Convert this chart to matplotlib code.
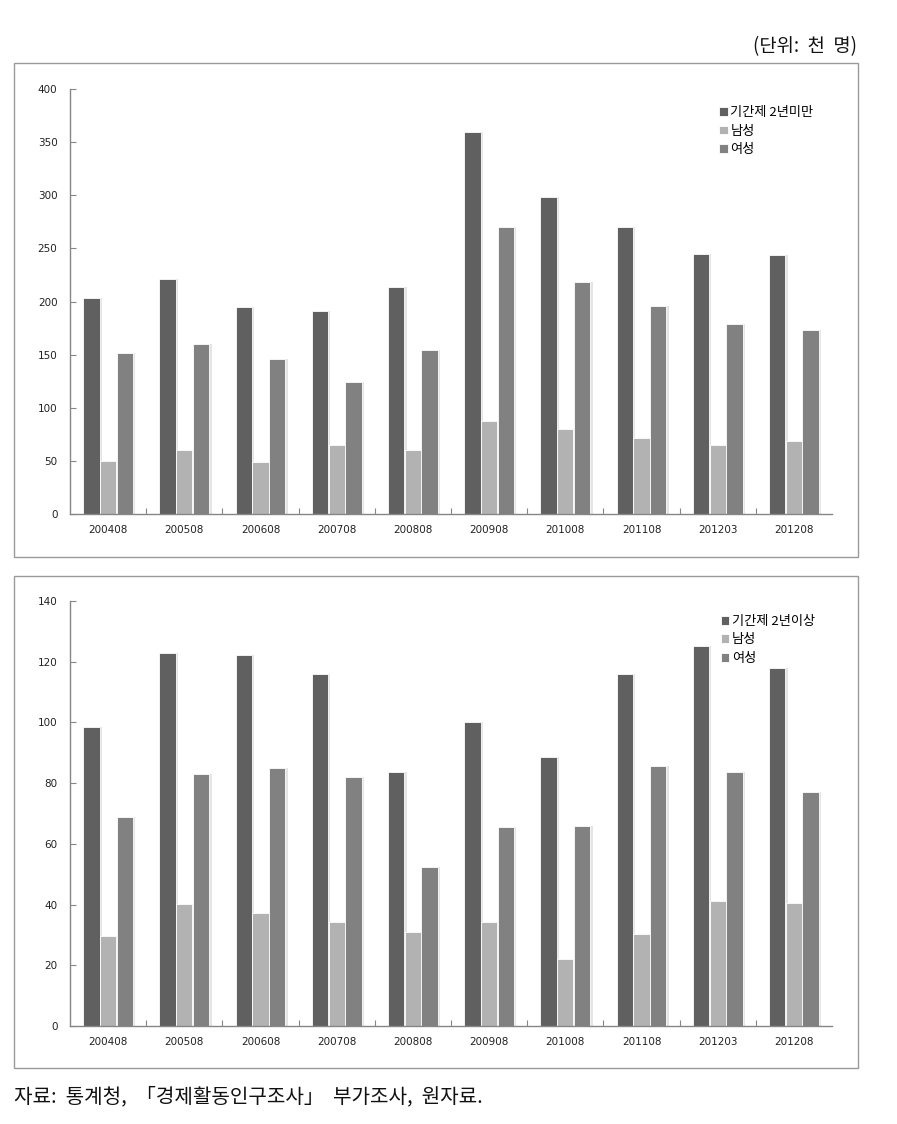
import matplotlib
matplotlib.use("Agg")
import matplotlib.pyplot as plt
from matplotlib.patches import Rectangle
import numpy as np

plt.rcParams['font.family'] = ['Noto Sans CJK KR', 'DejaVu Sans']

categories = ["200408", "200508", "200608", "200708", "200808",
              "200908", "201008", "201108", "201203", "201208"]

# Top panel: fixed-term under 2 years
under2_total = [203, 221, 195, 191, 214, 360, 298, 270, 245, 244]
under2_male = [50, 60, 49, 65, 60, 88, 80, 72, 65, 69]
under2_female = [152, 160, 146, 124, 154, 270, 218, 196, 179, 173]

# Bottom panel: fixed-term 2 years or more
over2_total = [98.5, 122.9, 122.2, 115.9, 83.7, 100.1, 88.6, 116.0, 125.2, 118.0]
over2_male = [29.7, 40.3, 37.3, 34.2, 31.0, 34.1, 22.2, 30.4, 41.3, 40.6]
over2_female = [68.9, 83.0, 85.0, 82.1, 52.5, 65.6, 65.9, 85.7, 83.7, 77.1]

top_labels = ["기간제 2년미만", "남성", "여성"]
bottom_labels = ["기간제 2년이상", "남성", "여성"]
top_yticks = [0, 50, 100, 150, 200, 250, 300, 350, 400]
bottom_yticks = [0, 20, 40, 60, 80, 100, 120, 140]

colors = ["#606060", "#b2b2b2", "#818181"]

W, H = 897, 1124
fig = plt.figure(figsize=(W / 100, H / 100), dpi=100)

def frac(x0, y0, x1, y1):
    return [x0 / W, 1 - y1 / H, (x1 - x0) / W, (y1 - y0) / H]

# panel frames
for (y0, y1) in [(63, 557), (576, 1068)]:
    fig.patches.append(Rectangle((14 / W, 1 - y1 / H), (858 - 14) / W, (y1 - y0) / H,
                                 transform=fig.transFigure, fill=False,
                                 edgecolor="#9a9a9a", linewidth=1.0))

def draw(ax, series, labels, yticks, legend_pos):
    x = np.arange(len(categories))
    bw = 0.215
    offs = [-bw - 0.005, 0, bw + 0.005]
    for s, lab, c, o in zip(series, labels, colors, offs):
        # shadow
        ax.bar(x + o + 0.03, s, width=bw, color="#e4e4e4", zorder=1)
        ax.bar(x + o, s, width=bw, color=c, label=lab, zorder=2,
               edgecolor="white", linewidth=0.6)
    ax.set_xlim(-0.5, len(categories) - 0.5)
    ax.set_ylim(yticks[0], yticks[-1])
    ax.set_yticks(yticks)
    ax.set_yticklabels([str(t) for t in yticks], fontsize=7.5, color="#222222",
                       family="DejaVu Sans")
    ax.set_xticks(x)
    ax.set_xticklabels(categories, fontsize=7.5, color="#222222", family="DejaVu Sans")
    ax.tick_params(axis="x", length=0, pad=8)
    ax.tick_params(axis="y", direction="in", length=4, color="#868686", width=0.8, pad=9)
    ax.set_xticks(np.arange(len(categories) - 1) + 0.5, minor=True)
    ax.tick_params(axis="x", which="minor", direction="in", length=4,
                   color="#868686", width=0.8)
    for sp in ["top", "right"]:
        ax.spines[sp].set_visible(False)
    for sp in ["left", "bottom"]:
        ax.spines[sp].set_color("#868686")
        ax.spines[sp].set_linewidth(1.0)
    ax.legend(loc="upper left", bbox_to_anchor=legend_pos,
              frameon=False, fontsize=9.5, handlelength=0.65, handleheight=0.65,
              handletextpad=0.2, labelspacing=0.42, borderaxespad=0)

ax1 = fig.add_axes(frac(70, 89, 832, 514))
draw(ax1, [under2_total, under2_male, under2_female], top_labels, top_yticks,
     (0.845, 0.972))
ax2 = fig.add_axes(frac(70, 601, 832, 1026))
draw(ax2, [over2_total, over2_male, over2_female], bottom_labels, bottom_yticks,
     (0.847, 0.98))

fig.text(857 / W, 1 - 47 / H, "(단위:  천  명)", ha="right", va="center",
         fontsize=13.5, color="#111111")
fig.text(14 / W, 1 - 1097 / H, "자료:  통계청,  「경제활동인구조사」  부가조사,  원자료.",
         ha="left", va="center", fontsize=14.5, color="#111111")

fig.savefig("out.png", dpi=100)
